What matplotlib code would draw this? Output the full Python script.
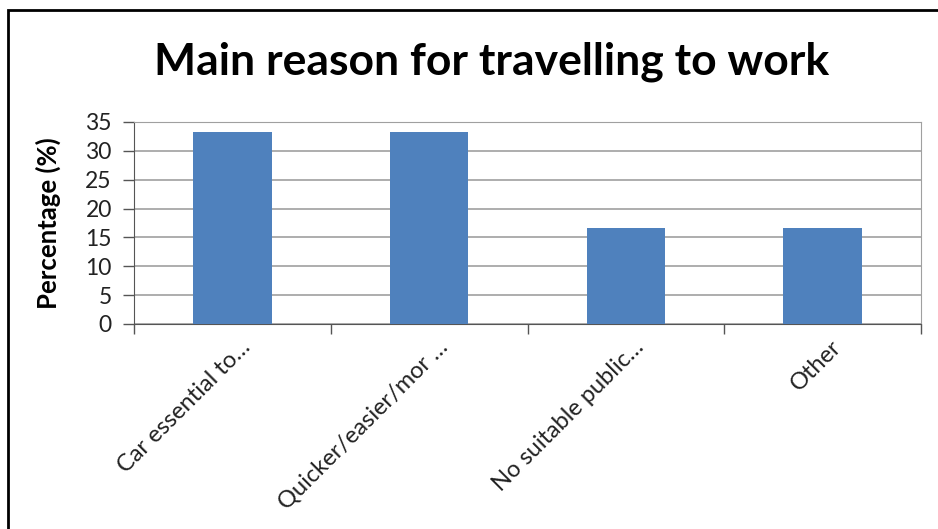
import matplotlib.pyplot as plt
from matplotlib.patches import Rectangle
from matplotlib.transforms import ScaledTranslation

# Data
categories = ['Car essential to\u2026', 'Quicker/easier/mor \u2026',
              'No suitable public\u2026', 'Other']
percentages = [33.33, 33.33, 16.67, 16.67]
yticks = [0, 5, 10, 15, 20, 25, 30, 35]

plt.rcParams['font.family'] = ['Lato', 'DejaVu Sans']

W, H = 938, 529
fig = plt.figure(figsize=(W / 100, H / 100), dpi=100)

# outer chart frame (cut off at right and bottom)
fig.patches.append(Rectangle((8 / W, -0.1), 1.2, 1 - 10 / H + 0.1,
                             transform=fig.transFigure, fill=False,
                             edgecolor='black', linewidth=2))

ax = fig.add_axes([134 / W, 1 - 324 / H, (921 - 134) / W, (324 - 122) / H])

x = range(len(categories))
ax.bar(x, percentages, width=0.4, color='#4F81BD', zorder=3)

ax.set_xlim(-0.5, len(categories) - 0.5)
ax.set_ylim(0, 35)
ax.set_yticks(yticks)
ax.yaxis.grid(True, color='#a0a0a0', linewidth=1.2, zorder=0)
ax.tick_params(axis='y', labelsize=16.5, length=8, width=1, color='#555555',
               pad=8, labelcolor='#222222')

# category labels at centres, ticks between categories
ax.set_xticks(list(x))
ax.set_xticklabels(categories, rotation=45, ha='right', va='center',
                   rotation_mode='anchor', fontsize=17, color='#222222')
ax.tick_params(axis='x', length=0, pad=14)
shift = ScaledTranslation(15 / 100, 0, fig.dpi_scale_trans)
for lbl in ax.get_xticklabels():
    lbl.set_transform(lbl.get_transform() + shift)
ax.set_xticks([i - 0.5 for i in range(len(categories) + 1)], minor=True)
ax.tick_params(axis='x', which='minor', length=7, width=1, color='#555555')

for s in ['left', 'bottom']:
    ax.spines[s].set_color('#555555')
for s in ['top', 'right']:
    ax.spines[s].set_color('#a0a0a0')

ax.set_ylabel('Percentage (%)', fontsize=18.5, fontweight='bold')
ax.yaxis.set_label_coords((61 - 134) / (921 - 134), 0.5)

fig.text(492 / W, 1 - 62 / H, 'Main reason for travelling to work',
         ha='center', va='center', fontsize=32, fontweight='bold')

fig.savefig('out.png', dpi=100)
